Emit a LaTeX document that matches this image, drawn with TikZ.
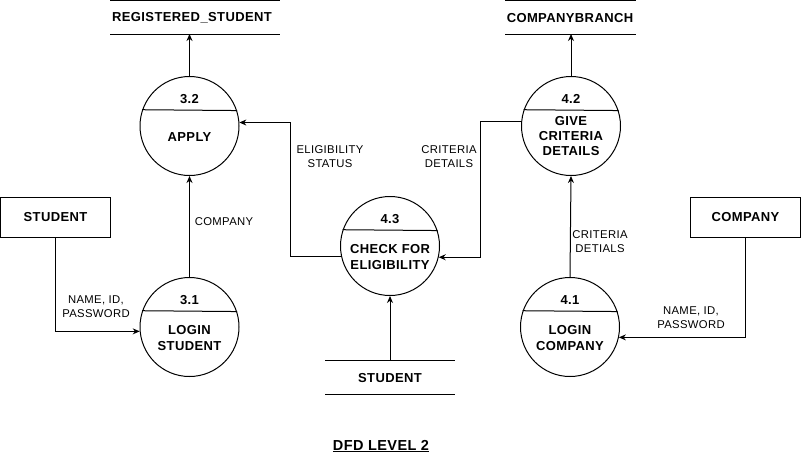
\documentclass[tikz,border=0pt]{standalone}
\usepackage{fontspec}
\setmainfont{Liberation Sans}[LetterSpace=3]
\usetikzlibrary{arrows.meta,calc}
\begin{document}
\begin{tikzpicture}[x=1pt,y=-1pt,line width=1pt,
  proc/.style={draw,circle,minimum size=99pt,inner sep=0pt},
  ent/.style={draw,minimum width=110pt,minimum height=40pt,inner sep=0pt,font=\fontsize{13}{15}\selectfont\bfseries},
  btxt/.style={font=\fontsize{13}{15.5}\selectfont\bfseries,align=center,inner sep=0pt},
  lbl/.style={font=\fontsize{11.3}{14}\selectfont,align=center,inner sep=0pt},
  flow/.style={-{Stealth[length=7pt,width=6pt]}},
  storeline/.style={line width=1pt}]
\useasboundingbox (0,0) rectangle (801,458);

% processes
\node[proc] (p32) at (189.5,126) {};
\node[proc] (p31) at (189.5,327) {};
\node[proc] (p43) at (390,246) {};
\node[proc] (p42) at (571,126) {};
\node[proc] (p41) at (570,327) {};
\foreach \p in {p32,p31,p43,p42,p41}{\draw (\p.161.2) -- (\p.18.8);}

\node[btxt] (n32) at ($(p32)+(0,-27)$) {3.2};
\node[btxt] (t32) at ($(p32)+(0,11)$) {APPLY};
\node[btxt] (n31) at ($(p31)+(0,-27)$) {3.1};
\node[btxt] (t31) at ($(p31)+(0,11)$) {LOGIN\\STUDENT};
\node[btxt] (n43) at ($(p43)+(0,-27)$) {4.3};
\node[btxt] (t43) at ($(p43)+(0,11)$) {CHECK FOR\\ELIGIBILITY};
\node[btxt] (n42) at ($(p42)+(0,-27)$) {4.2};
\node[btxt,font=\fontsize{13}{15}\selectfont\bfseries] (t42) at ($(p42)+(0,10)$) {GIVE\\CRITERIA\\DETAILS};
\node[btxt] (n41) at ($(p41)+(0,-27)$) {4.1};
\node[btxt] (t41) at ($(p41)+(0,11)$) {LOGIN\\COMPANY};

% entities
\node[ent] (student) at (55.5,217) {STUDENT};
\node[ent] (company) at (745.5,217) {COMPANY};

% data stores
\coordinate (rsB) at (195,34);
\draw[storeline] (110,0.5) -- (280,0.5);
\draw[storeline] (110,34) -- (280,34);
\node[btxt] (rs) at (192,18) {REGISTERED\_STUDENT};

\coordinate (cbB) at (570,34);
\draw[storeline] (505,0.5) -- (636,0.5);
\draw[storeline] (505,34) -- (636,34);
\node[btxt] (cb) at (570,18) {COMPANYBRANCH};

\coordinate (stT) at (390,360);
\draw[storeline] (325,360) -- (455,360);
\draw[storeline] (325,394) -- (455,394);
\node[btxt] (st) at (390,378) {STUDENT};

% flows
\draw[flow] (student.south) |- (p31.185);
\draw[flow] (p31.north) -- (p32.south);
\draw[flow] (p32.north) -- (p32.north |- rsB);
\draw[flow] (p42.north) -- (p42.north |- cbB);
\draw[flow] (p41.north) -- (p42.south);
\draw[flow] (stT) -- (p43.south);
\coordinate (e1) at (290,0);
\draw[flow] (p43.192.7) -- (p43.192.7 -| e1) |- (p32.4.6);
\coordinate (c1) at (480,0);
\draw[flow] (p42.175.4) -- (p42.175.4 -| c1) |- (p43.347.3);
\draw[flow] (company.south) |- (p41.348.5);

% labels
\node[lbl] (l1) at (96,307) {NAME, ID,\\PASSWORD};
\node[lbl] (l2) at (224,222) {COMPANY};
\node[lbl] (l3) at (330,157) {ELIGIBILITY\\STATUS};
\node[lbl] (l4) at (449,157) {CRITERIA\\DETAILS};
\node[lbl] (l5) at (600,242) {CRITERIA\\DETIALS};
\node[lbl] (l6) at (691,318) {NAME, ID,\\PASSWORD};

\node[font=\fontsize{14.5}{16}\selectfont\bfseries,inner sep=0pt] (title) at (381,446) {\underline{DFD LEVEL 2}};
\end{tikzpicture}
\end{document}
